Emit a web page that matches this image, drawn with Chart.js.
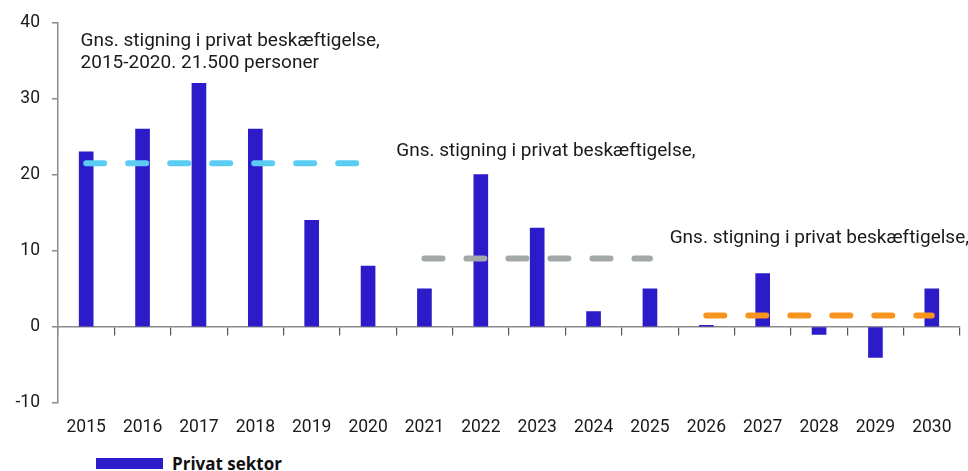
<!DOCTYPE html>
<html>
<head>
<meta charset="utf-8">
<script src="https://cdn.jsdelivr.net/npm/chart.js@4"></script>
<style>
  html, body { margin: 0; padding: 0; background: #fff; }
  #wrap { position: relative; width: 968px; height: 471px; overflow: hidden; }
  #legend { position: absolute; left: 96px; top: 452px; font: bold 17px "Open Sans", sans-serif; color: #111; display: flex; align-items: center; }
  #legend span.box { display: inline-block; width: 67px; height: 11px; background: #2b1bc8; margin-right: 9px; }
</style>
</head>
<body>
<div id="wrap">
  <canvas id="chart_privat" width="968" height="440"></canvas>
  <div id="legend"><span class="box"></span><span>Privat sektor</span></div>
</div>
<script>
var years = ['2015','2016','2017','2018','2019','2020','2021','2022','2023','2024','2025','2026','2027','2028','2029','2030']
var privat = [23, 26, 32, 26, 14, 8, 5, 20, 13, 2, 5, 0.2, 7, -1, -4, 5]
var avg1520 = [21.5, 21.5, 21.5, 21.5, 21.5, 21.5, null, null, null, null, null, null, null, null, null, null]
var avg2125 = [null, null, null, null, null, null, 9, 9, 9, 9, 9, null, null, null, null, null]
var avg2630 = [null, null, null, null, null, null, null, null, null, null, null, 1.5, 1.5, 1.5, 1.5, 1.5]
var yTicks = [-10, 0, 10, 20, 30, 40]
var noteText = [
    ['Gns. stigning i privat beskæftigelse,', '2015-2020. 21.500 personer'],
    ['Gns. stigning i privat beskæftigelse,'],
    ['Gns. stigning i privat beskæftigelse,']
]
var cores = ['#2b1bc8', '#5bcdf5', '#a3a8a8', '#f7941d']

// placering af tekst: [x i kategori-enheder, y i akse-enheder]
var notePos = [[-0.1, 37.5], [5.5, 23.1], [10.35, 11.6]]

var fontFam = 'Roboto, sans-serif'

var notesPlugin = {
    id: 'notes',
    afterDatasetsDraw: function(chart) {
        var ctx = chart.ctx
        var xs = chart.scales.x
        var ys = chart.scales.y
        ctx.save()
        ctx.font = '19px ' + fontFam
        ctx.fillStyle = '#1a1a1a'
        ctx.textBaseline = 'middle'
        noteText.forEach(function(lines, k) {
            var x = xs.getPixelForValue(notePos[k][0])
            var y = ys.getPixelForValue(notePos[k][1])
            lines.forEach(function(line, i) {
                ctx.fillText(line, x, y + i * 22)
            })
        })
        ctx.restore()
    }
}

function dashLine(data, color) {
    return {
        type: 'line',
        data: data,
        xAxisID: 'x',
        borderColor: color,
        backgroundColor: color,
        borderWidth: 6,
        borderDash: [18, 24],
        borderCapStyle: 'round',
        pointRadius: 0,
        fill: false
    }
}

var ctx = document.getElementById('chart_privat');
var chartBar = new Chart(ctx, {
    data: {
        labels: years,
        datasets: [
            dashLine(avg1520, cores[1]),
            dashLine(avg2125, cores[2]),
            dashLine(avg2630, cores[3]),
            {
                type: 'bar',
                label: 'Privat sektor',
                data: privat,
                xAxisID: 'x',
                backgroundColor: cores[0],
                borderWidth: 0,
                barThickness: 14,
                order: 10
            }
        ]
    },
    options: {
        responsive: false,
        animation: false,
        layout: { padding: { top: 21, right: 8, left: 0, bottom: 0 } },
        plugins: {
            legend: { display: false },
            tooltip: { enabled: false }
        },
        scales: {
            y: {
                min: -10,
                max: 40,
                afterFit: function(scale) { scale.width = 58 },
                afterBuildTicks: function(scale) {
                    scale.ticks = yTicks.map(function(v) { return { value: v } })
                },
                border: { color: '#8a8a8a', width: 1.5 },
                grid: { drawOnChartArea: false, tickLength: 6, color: '#8a8a8a', lineWidth: 1.5 },
                ticks: { color: '#1a1a1a', font: { size: 17.5, family: fontFam }, padding: 12 }
            },
            x: {
                position: 'bottom',
                afterFit: function(scale) { scale.height = 37 },
                border: { display: false },
                grid: { display: false, drawTicks: false },
                ticks: { color: '#1a1a1a', font: { size: 17.5, family: fontFam }, padding: 14, maxRotation: 0 }
            },
            x2: {
                type: 'category',
                labels: years,
                position: { y: 0 },
                offset: true,
                border: { color: '#8a8a8a', width: 1.5 },
                grid: { drawOnChartArea: false, offset: true, tickLength: 8, color: '#555', lineWidth: 1.2 },
                ticks: { display: false }
            }
        }
    },
    plugins: [notesPlugin]
});
</script>
</body>
</html>
